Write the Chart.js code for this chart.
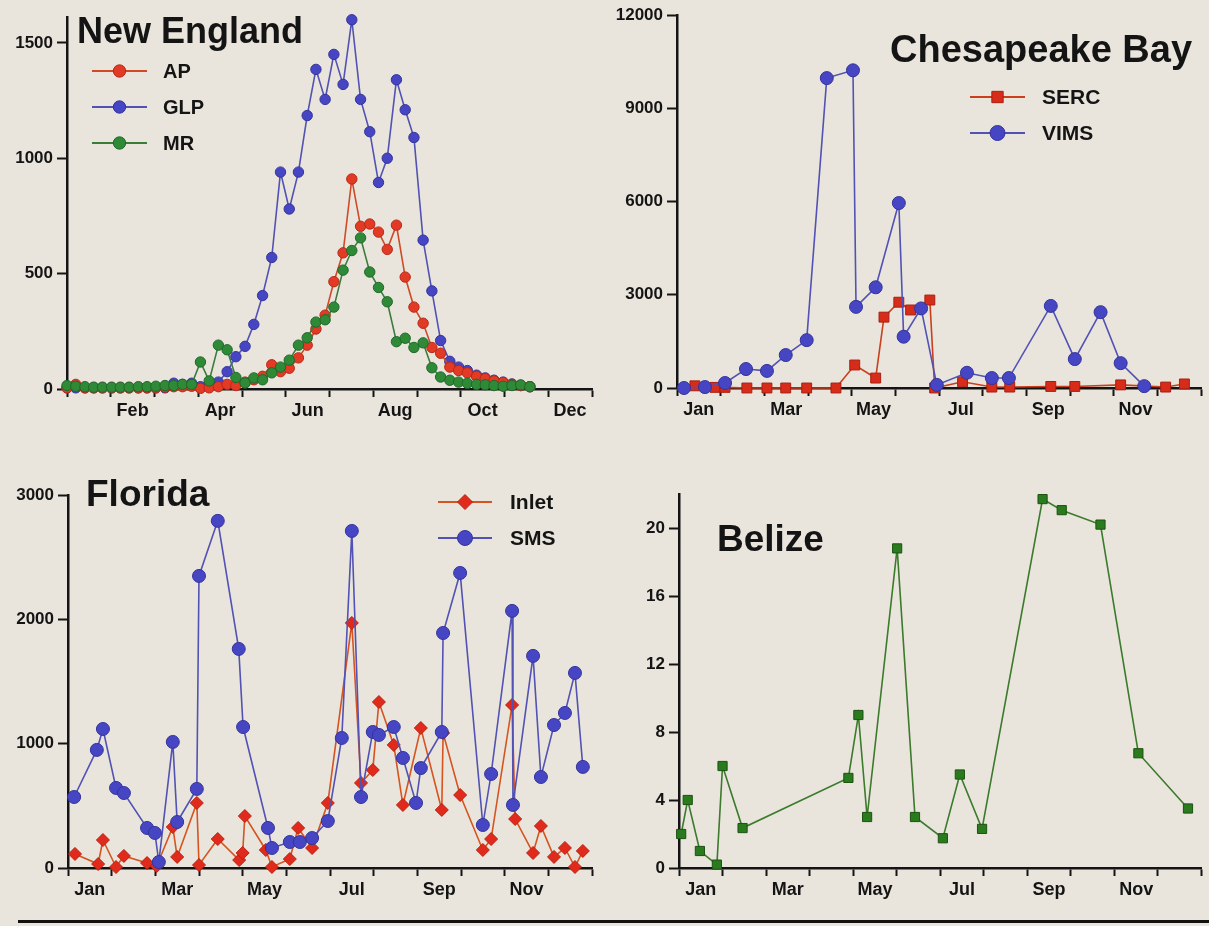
<!DOCTYPE html>
<html><head><meta charset="utf-8">
<script src="https://cdn.jsdelivr.net/npm/chart.js@4.4.1/dist/chart.umd.min.js"></script>
<style>
html,body{margin:0;padding:0;background:#e9e5dd;width:1209px;height:926px;overflow:hidden;}
.p{position:absolute;}
#rule{position:absolute;left:18px;top:920px;width:1191px;height:3px;background:#111;}
</style></head><body>
<div class="p" style="left:0;top:0;width:610px;height:440px"><canvas id="c1"></canvas></div>
<div class="p" style="left:610px;top:0;width:599px;height:440px"><canvas id="c2"></canvas></div>
<div class="p" style="left:0;top:460px;width:610px;height:460px"><canvas id="c3"></canvas></div>
<div class="p" style="left:610px;top:460px;width:599px;height:460px"><canvas id="c4"></canvas></div>
<div id="rule"></div>
<script>
// ---------- data ----------
const monthNames = ['Jan','Feb','Mar','Apr','May','Jun','Jul','Aug','Sep','Oct','Nov','Dec'];
const neMonthLabels = ['Feb','Apr','Jun','Aug','Oct','Dec'];
const oddMonthLabels = ['Jan','Mar','May','Jul','Sep','Nov'];
const neYTicks = [0,500,1000,1500];
const cbYTicks = [0,3000,6000,9000,12000];
const flYTicks = [0,1000,2000,3000];
const bzYTicks = [0,4,8,12,16,20];

// New England (x in months from Jan 1)
const neX = [0.00,0.20,0.41,0.61,0.81,1.02,1.22,1.42,1.63,1.83,2.03,2.24,2.44,2.64,2.85,
  3.05,3.25,3.46,3.66,3.86,4.07,4.27,4.47,4.68,4.88,5.08,5.29,5.49,5.69,5.90,6.10,6.31,6.51,
  6.71,6.92,7.12,7.32,7.53,7.73,7.93,8.14,8.34,8.54,8.75,8.95,9.15,9.36,9.56,9.76,9.97,10.17,10.37,10.58];
const neAP = [5,20,5,5,5,5,5,5,5,5,5,8,10,10,12,
  3,5,10,20,15,30,40,55,105,75,
  90,135,190,260,320,465,590,910,705,715,
  680,605,710,485,355,285,180,155,95,80,
  70,55,45,35,28,20,15,10];
const neGLP = [5,5,5,5,5,5,5,5,5,5,5,5,25,20,25,
  10,20,30,75,140,185,280,405,570,940,
  780,940,1185,1385,1255,1450,1320,1600,1255,1115,
  895,1000,1340,1210,1090,645,425,210,120,95,
  80,60,48,38,30,22,15,10];
const neMR = [15,12,10,8,8,8,8,8,10,10,12,15,15,20,20,
  117,35,190,170,50,26,48,40,70,95,
  125,190,222,290,300,355,515,600,655,507,
  440,378,205,220,180,200,92,52,38,30,
  25,20,18,15,12,15,18,10];

// Chesapeake Bay
const sercX = [0.41,0.87,1.10,1.60,2.06,2.49,2.97,3.64,4.07,4.55,4.74,5.08,5.35,5.79,5.90,6.54,7.21,7.62,8.56,9.11,10.16,11.19,11.62];
const sercY = [70,20,20,0,0,0,0,0,740,320,2280,2760,2510,2830,0,200,30,30,50,50,100,30,130];
const vimsX = [0.16,0.64,1.10,1.58,2.06,2.49,2.97,3.43,4.03,4.10,4.55,5.08,5.19,5.59,5.95,6.64,7.21,7.60,8.56,9.11,9.70,10.16,10.70];
const vimsY = [0,30,160,610,550,1060,1540,9970,10220,2610,3240,5950,1650,2560,100,490,320,320,2640,930,2440,800,60];

// Florida
const inletX = [0.16,0.69,0.80,1.10,1.28,1.81,2.03,2.40,2.50,2.95,3.00,3.43,3.92,4.00,4.05,4.53,4.67,5.08,5.27,5.59,
  5.95,6.50,6.71,6.98,7.12,7.46,7.67,8.08,8.56,8.59,8.98,9.50,9.69,10.17,10.24,10.65,10.83,11.13,11.38,11.61,11.79];
const inletY = [113,32,225,8,97,40,16,330,89,523,24,233,64,121,418,145,8,72,322,161,
  523,1971,684,788,1335,990,507,1126,467,1086,587,145,233,1311,394,121,338,89,161,8,137];
const smsX = [0.14,0.66,0.80,1.10,1.28,1.81,1.99,2.08,2.40,2.50,2.95,3.00,3.43,3.91,4.01,4.58,4.67,5.08,5.31,5.59,
  5.95,6.27,6.50,6.71,6.98,7.12,7.46,7.67,7.97,8.08,8.56,8.59,8.98,9.50,9.69,10.17,10.19,10.65,10.83,11.13,11.38,11.61,11.79];
const smsY = [571,950,1118,644,603,322,282,48,1014,370,636,2349,2792,1762,1134,322,161,209,209,241,
  378,1046,2711,571,1094,1070,1134,885,523,804,1094,1890,2373,346,756,2068,507,1706,732,1150,1247,1569,813];

// Belize
const belX = [0.05,0.20,0.48,0.87,1.00,1.46,3.89,4.12,4.32,5.01,5.42,6.06,6.45,6.96,8.35,8.79,9.68,10.55,11.69];
const belY = [2.0,4.0,1.0,0.2,6.0,2.35,5.3,9.0,3.0,18.8,3.0,1.75,5.5,2.3,21.7,21.05,20.2,6.75,3.5];

// ---------- helpers ----------
const FONT = '"Liberation Sans", Arial, Helvetica, sans-serif';
const INK = '#141414';

function pts(xs, ys){ return xs.map((x,i)=>({x:x, y:ys[i]})); }

function drawMarker(ctx, style, x, y, r, fill, stroke){
  ctx.beginPath();
  if (style === 'rect'){ const s = r*Math.SQRT1_2; ctx.rect(x-s, y-s, 2*s, 2*s); }
  else if (style === 'rectRot'){ ctx.moveTo(x, y-r); ctx.lineTo(x+r, y); ctx.lineTo(x, y+r); ctx.lineTo(x-r, y); ctx.closePath(); }
  else { ctx.arc(x, y, r, 0, Math.PI*2); }
  ctx.fillStyle = fill; ctx.fill();
  ctx.lineWidth = 1; ctx.strokeStyle = stroke; ctx.stroke();
}

const decor = {
  id: 'decor',
  afterDraw(chart, args, o){
    const ctx = chart.ctx;
    ctx.save();
    if (o.title){
      ctx.font = 'bold ' + o.title.size + 'px ' + FONT;
      ctx.fillStyle = INK; ctx.textAlign = 'left'; ctx.textBaseline = 'alphabetic';
      ctx.fillText(o.title.text, o.title.x, o.title.y);
    }
    if (o.legend){
      const L = o.legend;
      L.items.forEach((di, k) => {
        const ds = chart.data.datasets[di];
        const y = L.y + k*L.gap;
        ctx.strokeStyle = ds.borderColor; ctx.lineWidth = 2;
        ctx.beginPath(); ctx.moveTo(L.x1, y); ctx.lineTo(L.x2, y); ctx.stroke();
        drawMarker(ctx, ds.pointStyle, (L.x1+L.x2)/2, y, ds.pointRadius + 1, ds.pointBackgroundColor, ds.pointBorderColor);
        ctx.fillStyle = INK; ctx.font = 'bold ' + L.size + 'px ' + FONT;
        ctx.textAlign = 'left'; ctx.textBaseline = 'middle';
        ctx.fillText(ds.label, L.tx, y + 1);
      });
    }
    ctx.restore();
  }
};

function xScale(shown){
  return {
    type: 'linear', min: 0, max: 12,
    afterBuildTicks: s => {
      const t = [];
      monthNames.forEach((m, k) => { t.push({value: k}); t.push({value: k + 0.5}); });
      t.push({value: 12});
      s.ticks = t;
    },
    afterFit: s => { s.height = 40; },
    ticks: {
      autoSkip: false, maxRotation: 0, minRotation: 0, padding: 3, color: INK,
      font: {family: FONT, size: 18, weight: 'bold'},
      callback: v => {
        if (Number.isInteger(v)) return '';
        const m = monthNames[Math.floor(v)];
        return shown.includes(m) ? m : '';
      }
    },
    grid: {
      drawOnChartArea: false, drawTicks: true, tickLength: 8, tickWidth: 2,
      tickColor: c => (c.tick && Number.isInteger(c.tick.value)) ? INK : 'rgba(0,0,0,0)'
    },
    border: {display: true, color: INK, width: 2.5}
  };
}

function yScale(max, tickVals, width){
  return {
    type: 'linear', min: 0, max: max,
    afterBuildTicks: s => { s.ticks = tickVals.map(v => ({value: v})); },
    afterFit: s => { s.width = width; },
    ticks: {
      autoSkip: false, padding: 4, color: INK,
      font: {family: FONT, size: 17, weight: 'bold'},
      callback: v => String(v)
    },
    grid: {drawOnChartArea: false, drawTicks: true, tickLength: 10, tickWidth: 2, tickColor: INK},
    border: {display: true, color: INK, width: 2.5}
  };
}

function ds(label, data, line, fill, edge, style, r, order){
  return {
    label: label, data: data, borderColor: line, backgroundColor: fill,
    pointBackgroundColor: fill, pointBorderColor: edge, pointBorderWidth: 1,
    pointStyle: style, pointRadius: r, borderWidth: 1.6, tension: 0,
    clip: false, order: order
  };
}

function make(id, datasets, xs, ys, padding, decorOpts){
  return new Chart(document.getElementById(id), {
    type: 'line',
    data: {datasets: datasets},
    options: {
      responsive: true, maintainAspectRatio: false, animation: false,
      layout: {padding: padding},
      scales: {x: xs, y: ys},
      plugins: {legend: {display: false}, tooltip: {enabled: false}, decor: decorOpts}
    },
    plugins: [decor]
  });
}

const RED = '#e23a24', REDLINE = '#cf4a26', REDEDGE = '#b52a18';
const BLUE = '#4646c4', BLUELINE = '#5252b4', BLUEEDGE = '#33339a';
const GREEN = '#2e8a36', GREENLINE = '#3b7c3b', GREENEDGE = '#21672a';

// New England
make('c1', [
  ds('AP', pts(neX, neAP), REDLINE, RED, REDEDGE, 'circle', 5.2, 1),
  ds('GLP', pts(neX, neGLP), BLUELINE, BLUE, BLUEEDGE, 'circle', 5.2, 2),
  ds('MR', pts(neX, neMR), GREENLINE, GREEN, GREENEDGE, 'circle', 5.2, 0)
], xScale(neMonthLabels), yScale(1612, neYTicks, 67), {left: 0, top: 17, right: 18, bottom: 11},
{ title: {text: 'New England', x: 77, y: 43, size: 36},
  legend: {items: [0,1,2], x1: 92, x2: 147, tx: 163, y: 71, gap: 36, size: 20} });

// Chesapeake Bay
make('c2', [
  ds('SERC', pts(sercX, sercY), '#c9401e', '#d82c1a', '#a81e10', 'rect', 7, 1),
  ds('VIMS', pts(vimsX, vimsY), BLUELINE, BLUE, BLUEEDGE, 'circle', 6.5, 0)
], xScale(oddMonthLabels), yScale(12000, cbYTicks, 67), {left: 0, top: 15, right: 6, bottom: 12},
{ title: {text: 'Chesapeake Bay', x: 280, y: 62, size: 38},
  legend: {items: [0,1], x1: 360, x2: 415, tx: 432, y: 97, gap: 36, size: 21} });

// Florida
make('c3', [
  ds('Inlet', pts(inletX, inletY), '#d6541f', '#e02a1c', '#b8200f', 'rectRot', 6.5, 1),
  ds('SMS', pts(smsX, smsY), BLUELINE, BLUE, BLUEEDGE, 'circle', 6.5, 0)
], xScale(oddMonthLabels), yScale(3000, flYTicks, 68), {left: 0, top: 35, right: 18, bottom: 12},
{ title: {text: 'Florida', x: 86, y: 46, size: 37},
  legend: {items: [0,1], x1: 438, x2: 492, tx: 510, y: 42, gap: 36, size: 21} });

// Belize
make('c4', [
  ds('Belize', pts(belX, belY), '#3c7a2c', '#2a7a1e', '#1c5212', 'rect', 6.5, 0)
], xScale(oddMonthLabels), yScale(22, bzYTicks, 69), {left: 0, top: 34, right: 6, bottom: 12},
{ title: {text: 'Belize', x: 107, y: 91, size: 37} });
</script>
</body></html>
